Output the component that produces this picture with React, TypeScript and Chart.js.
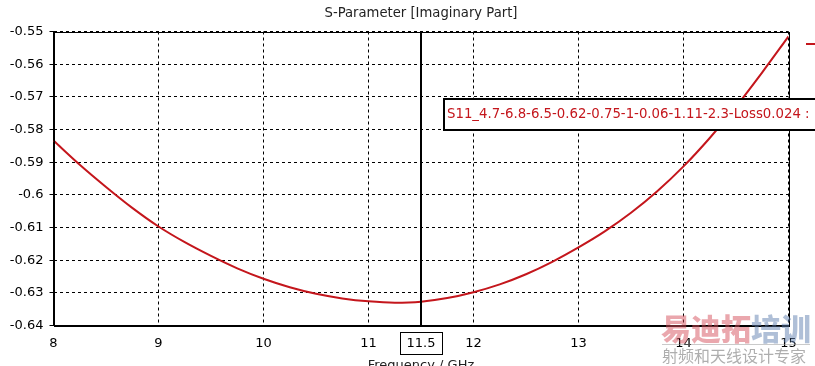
import React, { useEffect, useRef } from 'react';
import { Chart, registerables } from 'chart.js';

Chart.register(...registerables);

// ---- data ----
const freqGHz = [8, 8.25, 8.5, 8.75, 9, 9.25, 9.5, 9.75, 10, 10.25, 10.5, 10.75, 11, 11.25, 11.5, 11.75, 12, 12.25, 12.5, 12.75, 13, 13.25, 13.5, 13.75, 14, 14.25, 14.5, 14.75, 15];
const imagS11 = [-0.5834, -0.5908, -0.5976, -0.604, -0.6097, -0.6145, -0.6187, -0.6225, -0.6257, -0.6283, -0.6303, -0.6317, -0.6326, -0.633, -0.6327, -0.6316, -0.6298, -0.6274, -0.6243, -0.6205, -0.6161, -0.6112, -0.6055, -0.5989, -0.5913, -0.5826, -0.573, -0.5625, -0.5515];
const xMin = 8;
const xMax = 15;
const yMin = -0.64;
const yMax = -0.55;
const chartTitle = 'S-Parameter [Imaginary Part]';
const xAxisTitle = 'Frequency / GHz';
const seriesName = 'S11_4.7-6.8-6.5-0.62-0.75-1-0.06-1.11-2.3-Loss0.024 :';
const markerX = 11.5;
const markerLabel = '11.5';
const watermarkRed = '易迪拓';
const watermarkBlue = '培训';
const watermarkSub = '射频和天线设计专家';

const FONT = '"DejaVu Sans", sans-serif';
const RED = '#c4161c';

const overlayPlugin = {
  id: 'overlay',
  afterDraw(chart: any) {
    const { ctx, chartArea } = chart;
    const xs = chart.scales.x;
    const { left, right, top, bottom } = chartArea;
    ctx.save();
    // frame
    ctx.strokeStyle = '#000';
    ctx.lineWidth = 1;
    ctx.setLineDash([]);
    ctx.strokeRect(Math.round(left) + 0.5, Math.round(top) + 0.5, Math.round(right) - Math.round(left), Math.round(bottom) - Math.round(top));

    // marker
    const mx = Math.round(xs.getPixelForValue(markerX));
    ctx.lineWidth = 2;
    ctx.beginPath();
    ctx.moveTo(mx, top);
    ctx.lineTo(mx, bottom);
    ctx.stroke();
    ctx.lineWidth = 1;
    ctx.fillStyle = '#fff';
    ctx.fillRect(mx - 21, 332, 42, 22);
    ctx.strokeRect(mx - 21 + 0.5, 332.5, 42, 22);
    ctx.fillStyle = '#000';
    ctx.font = `13px ${FONT}`;
    ctx.textAlign = 'center';
    ctx.textBaseline = 'middle';
    ctx.fillText(markerLabel, mx, 343.5);

    // title
    ctx.fillStyle = '#222';
    ctx.font = `13.2px ${FONT}`;
    ctx.fillText(chartTitle, (left + right) / 2, 14);

    // x axis title (cut off at bottom)
    ctx.font = `13px ${FONT}`;
    ctx.textBaseline = 'top';
    ctx.fillText(xAxisTitle, (left + right) / 2, 359);

    // legend box
    ctx.fillStyle = '#fff';
    ctx.fillRect(444, 99, 400, 31);
    ctx.lineWidth = 2;
    ctx.strokeStyle = '#000';
    ctx.strokeRect(444, 99, 400, 31);
    ctx.fillStyle = RED;
    ctx.font = `13.3px ${FONT}`;
    ctx.textAlign = 'left';
    ctx.textBaseline = 'middle';
    ctx.fillText(seriesName, 447, 114.5);

    // legend line sample (top right)
    ctx.strokeStyle = RED;
    ctx.lineWidth = 2;
    ctx.beginPath();
    ctx.moveTo(806, 44);
    ctx.lineTo(815, 44);
    ctx.stroke();

    // watermark
    ctx.font = `900 30px "Noto Sans CJK SC", sans-serif`;
    ctx.textBaseline = 'alphabetic';
    ctx.fillStyle = 'rgba(214, 80, 92, 0.5)';
    ctx.fillText(watermarkRed, 661, 340);
    const w1 = ctx.measureText(watermarkRed).width;
    ctx.fillStyle = 'rgba(96, 128, 176, 0.5)';
    ctx.fillText(watermarkBlue, 661 + w1, 340);
    ctx.strokeStyle = 'rgba(150,150,150,0.5)';
    ctx.lineWidth = 1;
    ctx.beginPath();
    ctx.moveTo(662, 344.5);
    ctx.lineTo(810, 344.5);
    ctx.stroke();
    ctx.font = `16px "Noto Sans CJK SC", sans-serif`;
    ctx.fillStyle = 'rgba(120,120,120,0.6)';
    ctx.fillText(watermarkSub, 662, 362);
    ctx.restore();
  },
};

export default function App() {
  const ref = useRef<HTMLCanvasElement>(null);
  useEffect(() => {
    document.body.style.margin = '0';
    const chart = new Chart(ref.current!, {
      type: 'line',
      data: {
        datasets: [
          {
            label: seriesName,
            data: freqGHz.map((f, i) => ({ x: f, y: imagS11[i] })),
            borderColor: RED,
            borderWidth: 2,
            pointRadius: 0,
            cubicInterpolationMode: 'monotone',
            fill: false,
          },
        ],
      },
      options: {
        responsive: false,
        animation: false,
        layout: { padding: { top: 31.5, right: 26.5, left: 0, bottom: 0 } },
        plugins: { legend: { display: false }, tooltip: { enabled: false }, title: { display: false } },
        scales: {
          x: {
            type: 'linear',
            min: xMin,
            max: xMax,
            afterFit: (s: any) => { s.height = 40.5; },
            ticks: { stepSize: 1, color: '#000', font: { family: FONT, size: 13 }, padding: 10, callback: (v: any) => String(v) },
            grid: { color: '#000', lineWidth: 1, drawTicks: false },
            border: { display: true, color: '#000', width: 1, dash: [3, 3] },
          },
          y: {
            type: 'linear',
            min: yMin,
            max: yMax,
            afterFit: (s: any) => { s.width = 53.5; },
            ticks: { stepSize: 0.01, color: '#000', font: { family: FONT, size: 13 }, padding: 6, callback: (v: any) => String(Number(Number(v).toFixed(2))) },
            grid: { color: '#000', lineWidth: 1, drawTicks: true, tickLength: 4, tickColor: '#000', tickBorderDash: [] },
            border: { display: true, color: '#000', width: 1, dash: [3, 3] },
          },
        },
      },
      plugins: [overlayPlugin],
    });
    return () => chart.destroy();
  }, []);
  return (
    <div style={{ position: 'fixed', left: 0, top: 0, width: 815, height: 366, background: '#fff' }}>
      <canvas ref={ref} width={815} height={366} style={{ display: 'block' }} />
    </div>
  );
}
